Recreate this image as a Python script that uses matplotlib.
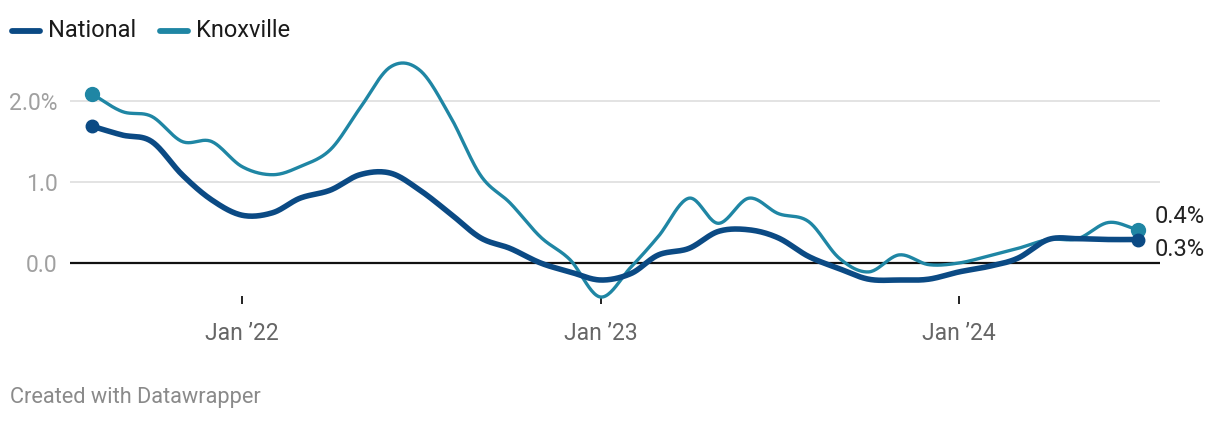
import numpy as np
import matplotlib
matplotlib.use("Agg")
import matplotlib.pyplot as plt
import matplotlib.dates as mdates
from matplotlib.lines import Line2D
import datetime as dt

plt.rcParams['font.family'] = ['Roboto', 'DejaVu Sans']

# ---------------- data ----------------
start_month = (2021, 8)
n_months = 36
national = [1.69, 1.58, 1.50, 1.09, 0.78, 0.59, 0.62, 0.80, 0.90, 1.09, 1.11, 0.90,
            0.61, 0.31, 0.18, 0.00, -0.11, -0.21, -0.13, 0.10, 0.18, 0.39, 0.41, 0.31,
            0.08, -0.07, -0.20, -0.21, -0.20, -0.11, -0.04, 0.06, 0.29, 0.30, 0.29, 0.29]
knoxville = [2.09, 1.87, 1.81, 1.50, 1.50, 1.19, 1.09, 1.19, 1.40, 1.91, 2.42, 2.38,
             1.81, 1.08, 0.74, 0.32, 0.04, -0.42, -0.05, 0.33, 0.80, 0.49, 0.80, 0.61,
             0.51, 0.06, -0.11, 0.10, -0.02, 0.00, 0.09, 0.18, 0.29, 0.30, 0.50, 0.41]
series_names = ["National", "Knoxville"]
end_labels = ["0.3%", "0.4%"]
y_ticks = [0.0, 1.0, 2.0]
y_tick_labels = ["0.0", "1.0", "2.0%"]
x_tick_dates = [dt.date(2022, 1, 1), dt.date(2023, 1, 1), dt.date(2024, 1, 1)]
x_tick_labels = ["Jan \u201922", "Jan \u201923", "Jan \u201924"]
footer = "Created with Datawrapper"

colors = {"National": "#0b4a84", "Knoxville": "#1f86a4"}

# ---------------- helpers ----------------
def month_dates(start, n):
    y, m = start
    out = []
    for i in range(n):
        out.append(dt.date(y + (m - 1 + i) // 12, (m - 1 + i) % 12 + 1, 1))
    return out

def smooth(x, y, per=24):
    x = np.asarray(x, float); y = np.asarray(y, float)
    n = len(x)
    mx = np.zeros(n); my = np.zeros(n)
    for i in range(n):
        a = max(i - 1, 0); b = min(i + 1, n - 1)
        mx[i] = (x[b] - x[a]) / (b - a)
        my[i] = (y[b] - y[a]) / (b - a)
    xs, ys = [], []
    t = np.linspace(0, 1, per, endpoint=False)
    h00 = 2 * t**3 - 3 * t**2 + 1; h10 = t**3 - 2 * t**2 + t
    h01 = -2 * t**3 + 3 * t**2; h11 = t**3 - t**2
    for i in range(n - 1):
        xs.append(h00 * x[i] + h10 * mx[i] + h01 * x[i + 1] + h11 * mx[i + 1])
        ys.append(h00 * y[i] + h10 * my[i] + h01 * y[i + 1] + h11 * my[i + 1])
    xs.append([x[-1]]); ys.append([y[-1]])
    return np.concatenate(xs), np.concatenate(ys)

dates = month_dates(start_month, n_months)
xnum = mdates.date2num(dates)

# ---------------- figure ----------------
W, H, DPI = 1220, 424, 100
fig = plt.figure(figsize=(W / DPI, H / DPI), dpi=DPI)
fig.patch.set_facecolor("white")

ax_left, ax_right = 70, 1160
ax_top, ax_bottom = 50, 296
ax = fig.add_axes([ax_left / W, 1 - ax_bottom / H, (ax_right - ax_left) / W, (ax_bottom - ax_top) / H])

px_per_unit = 81.0
zero_px = 263.0
ax.set_ylim(-(ax_bottom - zero_px) / px_per_unit, (zero_px - ax_top) / px_per_unit)

jan22 = mdates.date2num(dt.date(2022, 1, 1))
jan24 = mdates.date2num(dt.date(2024, 1, 1))
px_per_day = (960 - 243) / (jan24 - jan22)
ax.set_xlim(jan22 - (243 - ax_left) / px_per_day + 1.0, jan24 + (ax_right - 960) / px_per_day + 1.0)

for sp in ax.spines.values():
    sp.set_visible(False)

# gridlines
for v in y_ticks:
    if v == 0:
        ax.axhline(v, color="#111111", lw=1.6, zorder=3)
    else:
        ax.axhline(v, color="#e3e3e3", lw=1.4, zorder=1)

ax.set_yticks(y_ticks)
ax.set_yticklabels(y_tick_labels)
ax.tick_params(axis="y", length=0, pad=9, labelsize=16.5, labelcolor="#a0a0a0")
for lbl in ax.get_yticklabels():
    lbl.set_horizontalalignment("right")

ax.set_xticks(mdates.date2num(x_tick_dates))
ax.set_xticklabels(x_tick_labels)
ax.tick_params(axis="x", length=5.5, width=1.4, color="#222222", direction="out",
               pad=13, labelsize=16.5, labelcolor="#666666")

# series
data = {"National": national, "Knoxville": knoxville}
widths = {"National": 4.0, "Knoxville": 2.4}
msize = {"National": 9, "Knoxville": 10}
for name in ["Knoxville", "National"]:
    vals = data[name]
    sx, sy = smooth(xnum, vals)
    z = 5 if name == "National" else 4
    ax.plot(sx, sy, color=colors[name], lw=widths[name], solid_capstyle="round",
            solid_joinstyle="round", zorder=z, clip_on=False)
    ax.plot([xnum[0], xnum[-1]], [vals[0], vals[-1]], "o", color=colors[name],
            ms=msize[name], zorder=z, clip_on=False)

# end labels
ax.annotate(end_labels[1], (xnum[-1], knoxville[-1]), xytext=(17, 13),
            textcoords="offset pixels", ha="left", va="center", fontsize=17, color="#222222")
ax.annotate(end_labels[0], (xnum[-1], national[-1]), xytext=(17, -10),
            textcoords="offset pixels", ha="left", va="center", fontsize=17, color="#222222")

# legend
leg_y = 1 - 30.5 / H
for name, (lx, tx) in zip(series_names, [(12, 48), (160, 196)]):
    fig.add_artist(Line2D([lx / W, (lx + 28) / W], [leg_y, leg_y], transform=fig.transFigure,
                          color=colors[name], lw=4.2, solid_capstyle="round"))
    fig.text(tx / W, leg_y, name, ha="left", va="center", fontsize=17, color="#1a1a1a")

fig.text(10 / W, 1 - 398 / H, footer, ha="left", va="center", fontsize=15.7, color="#8a8a8a")

fig.savefig("out.png", dpi=DPI, facecolor="white")
